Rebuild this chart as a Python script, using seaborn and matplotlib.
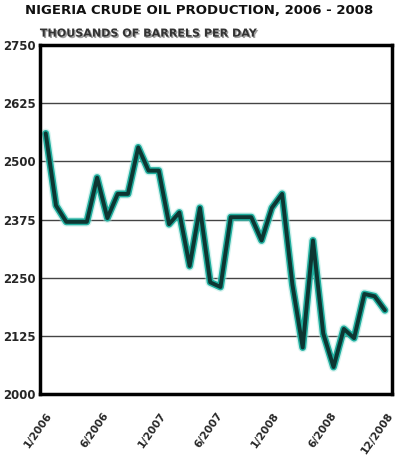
import numpy as np
import pandas as pd
import seaborn as sns
import matplotlib.pyplot as plt
import matplotlib.patheffects as pe

# Monthly production, thousands of barrels per day
production = [2560, 2405, 2370, 2370, 2370, 2465, 2378, 2430, 2430, 2530,
              2480, 2480, 2365, 2390, 2275, 2400, 2240, 2230, 2380, 2380,
              2380, 2330, 2400, 2430, 2235, 2100, 2330, 2130, 2058, 2140,
              2120, 2215, 2210, 2180]
month_labels = ['1/2006', '6/2006', '1/2007', '6/2007', '1/2008', '6/2008', '12/2008']
y_ticks = [2000, 2125, 2250, 2375, 2500, 2625, 2750]

df = pd.DataFrame({'month': np.arange(len(production)), 'bpd': production})

sns.set_style('white')
plt.rcParams['font.family'] = ['DejaVu Sans']

fig = plt.figure(figsize=(3.99, 4.61), dpi=100)
ax = fig.add_axes([0.1003, 0.1453, 0.8822, 0.7571])

# glow + dark core
sns.lineplot(data=df, x='month', y='bpd', ax=ax, color='#a6e6dd', lw=7, alpha=0.45)
sns.lineplot(data=df, x='month', y='bpd', ax=ax, color='#1fae9e', lw=5)
sns.lineplot(data=df, x='month', y='bpd', ax=ax, color='#0d3632', lw=2.8)

ax.set_xlim(-0.555, 33.69)
ax.set_ylim(2000, 2750)
ax.set_xlabel('')
ax.set_ylabel('')

for v in y_ticks[1:-1]:
    ax.axhline(v, color='#444444', lw=1, zorder=0)

ax.set_yticks(y_ticks)
ax.set_yticklabels([str(v) for v in y_ticks], fontsize=8.5, fontweight='bold')
ax.tick_params(axis='y', length=0, pad=3)

ax.set_xticks(np.linspace(0.0, 33.2, len(month_labels)))
ax.set_xticklabels(month_labels, fontsize=7.7, fontweight='bold', rotation=55,
                   ha='right', va='top', rotation_mode='anchor')
ax.tick_params(axis='x', which='major', length=0, pad=12)
ax.set_xticks(np.arange(33) + 0.7, minor=True)
ax.tick_params(axis='x', which='minor', length=10, width=1, color='#555555')

for s in ax.spines.values():
    s.set_visible(True)
    s.set_color('black')
    s.set_linewidth(2.5)
    s.set_path_effects([pe.SimplePatchShadow(offset=(2, -2), alpha=0.35), pe.Normal()])

fig.text(0.5, 0.978, 'NIGERIA CRUDE OIL PRODUCTION, 2006 - 2008', ha='center', va='center',
         fontsize=9.5, fontweight='bold', color='#111111')
fig.text(0.1, 0.927, 'THOUSANDS OF BARRELS PER DAY', ha='left', va='center',
         fontsize=8, fontweight='bold', color='#333333',
         path_effects=[pe.SimplePatchShadow(offset=(1, -1), alpha=0.4), pe.Normal()])

fig.savefig('out.png', dpi=100)
